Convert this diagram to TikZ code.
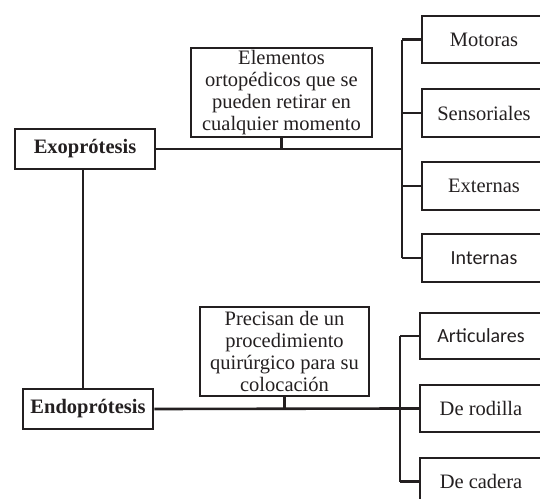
\documentclass[tikz,border=0pt]{standalone}
\usepackage{fontspec}
\setmainfont{Liberation Serif}
\newfontfamily\calfont{Carlito}
\definecolor{ink}{HTML}{231F20}
\begin{document}
\begin{tikzpicture}[x=1pt,y=-1pt,
  every node/.style={font=\rmfamily\fontsize{20.5}{22}\selectfont},
  box/.style={draw=ink,line width=2.5pt,inner sep=0pt,align=center,text=ink},
  mainbox/.style={box,font=\rmfamily\fontsize{20.5}{22}\selectfont\bfseries},
  leaf/.style={box,minimum width=124pt,minimum height=47pt},
  sansleaf/.style={leaf,font=\calfont\fontsize{20}{22}\selectfont},
  link/.style={draw=ink,line width=2.6pt}]
\path[use as bounding box,clip] (0,0) rectangle (540,498);
% main nodes
\node[mainbox,minimum width=140pt,minimum height=40pt] (exo) at (85,149) {Exoprótesis};
\node[mainbox,minimum width=130pt,minimum height=40pt] (endo) at (88,409) {Endoprótesis};
% description nodes
\node[box,minimum width=181pt,minimum height=89pt] (elem) at (281.5,92.5)
  {Elementos\\ortopédicos que se\\pueden retirar en\\cualquier momento};
\node[box,minimum width=169pt,minimum height=89pt] (prec) at (284.5,351.5)
  {Precisan de un\\procedimiento\\quirúrgico para su\\colocación};
% leaves
\node[leaf] (mot) at (484,39.5) {Motoras};
\node[leaf,minimum height=48pt] (sen) at (484,113) {Sensoriales};
\node[leaf,minimum height=48pt] (ext) at (484,186) {Externas};
\node[sansleaf,minimum height=48pt] (int) at (484,258) {Internas};
\node[sansleaf,minimum width=122pt,minimum height=46pt] (art) at (481,336) {Articulares};
\node[leaf,minimum width=122pt] (rod) at (481,408.5) {De rodilla};
\node[leaf,minimum width=122pt] (cad) at (481,481.5) {De cadera};
% junctions
\coordinate (jA) at (402,149);
\coordinate (jB) at (400,408.5);
% connectors
\draw[link] (exo.east) -- (jA);
\draw[link] (elem.south) -- (elem.south |- jA);
\draw[link] (mot.west -| jA) -- (int.west -| jA);
\foreach \n in {mot,sen,ext,int} \draw[link] (\n.west) -- (\n.west -| jA);
\draw[link] (endo.east) -- (jB);
\draw[link] (prec.south) -- (prec.south |- jB);
\draw[link] (art.west -| jB) -- (cad.west -| jB);
\foreach \n in {art,rod,cad} \draw[link] (\n.west) -- (\n.west -| jB);
\draw[link] ([xshift=-2pt]exo.south) -- ([xshift=-2pt]exo.south |- endo.north);
\end{tikzpicture}
\end{document}
